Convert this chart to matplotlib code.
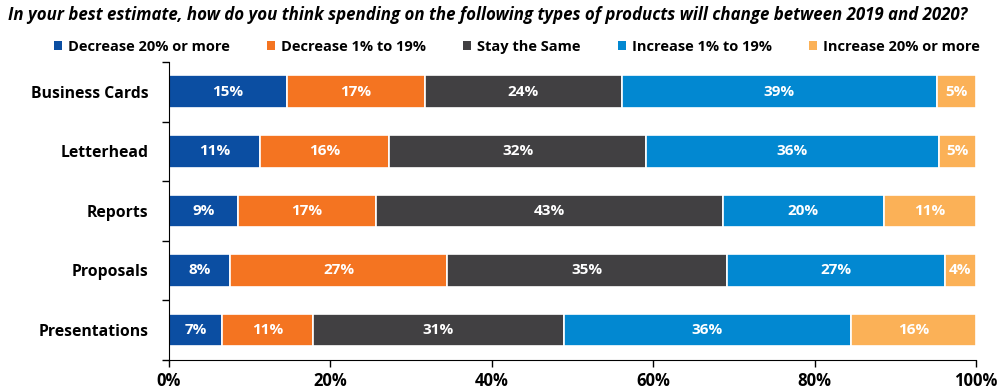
import numpy as np
import matplotlib.pyplot as plt
from matplotlib.patches import Patch
from matplotlib.ticker import PercentFormatter, FixedLocator

products = ["Business Cards", "Letterhead", "Reports", "Proposals", "Presentations"]
responses = ["Decrease 20% or more", "Decrease 1% to 19%", "Stay the Same",
             "Increase 1% to 19%", "Increase 20% or more"]

# share of respondents (%) per product, one list per response
dec_20 = [14.6, 11.3, 8.6, 7.6, 6.6]
dec_1_19 = [17.1, 16.0, 17.0, 26.9, 11.2]
same = [24.4, 31.8, 43.0, 34.7, 31.1]
inc_1_19 = [39.1, 36.3, 20.0, 26.9, 35.6]
inc_20 = [4.8, 4.6, 11.4, 3.9, 15.5]

colors = ["#0B4EA2", "#F47421", "#414042", "#0288D1", "#FBB157"]

plt.rcParams["font.family"] = ["Open Sans", "DejaVu Sans"]

fig = plt.figure(figsize=(10, 3.92), dpi=100)
ax = fig.add_axes([0.169, 0.082, 0.807, 0.760])

y = np.arange(len(products))
left = np.zeros(len(products))
for vals, color in zip([dec_20, dec_1_19, same, inc_1_19, inc_20], colors):
    vals = np.array(vals)
    ax.barh(y, vals, left=left, height=0.55, color=color,
            edgecolor="white", linewidth=1.2)
    for yi, l, v in zip(y, left, vals):
        ax.text(l + v / 2, yi, f"{v:.0f}%", ha="center", va="center",
                color="white", fontsize=11, fontweight="bold")
    left += vals

ax.set_xlim(0, 100)
ax.set_ylim(len(products) - 0.5, -0.5)
ax.set_yticks(y)
ax.set_yticklabels(products, fontsize=11.3, fontweight="bold")
ax.yaxis.set_minor_locator(FixedLocator(np.arange(-0.5, len(products), 1)))
ax.tick_params(axis="y", which="major", length=0, pad=15)
ax.tick_params(axis="y", which="minor", length=5, width=1)
ax.set_xticks([0, 20, 40, 60, 80, 100])
ax.xaxis.set_major_formatter(PercentFormatter(decimals=0))
ax.tick_params(axis="x", length=5, width=1, labelsize=12, pad=4)
for lbl in ax.get_xticklabels():
    lbl.set_fontweight("bold")

ax.spines["top"].set_visible(False)
ax.spines["right"].set_visible(False)

fig.text(0.008, 0.962, "In your best estimate, how do you think spending on the following types "
         "of products will change between 2019 and 2020?",
         fontsize=12.2, fontweight="bold", fontstyle="italic", va="center")

handles = [Patch(facecolor=c, label=r) for c, r in zip(colors, responses)]
fig.legend(handles=handles, loc="center", bbox_to_anchor=(0.517, 0.88), ncol=5,
           frameon=False, handlelength=0.55, handleheight=0.55, handletextpad=0.4,
           columnspacing=2.55, borderpad=0, prop={"size": 10.5, "weight": "bold"})

fig.savefig("out.png", dpi=100)
